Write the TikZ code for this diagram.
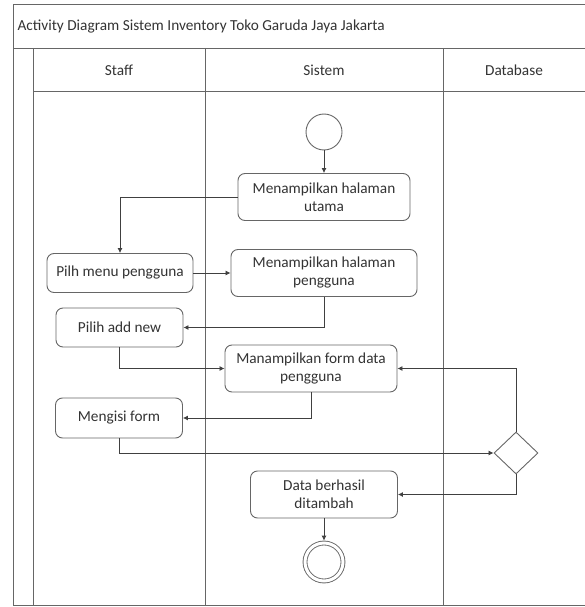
\documentclass[tikz,border=0pt]{standalone}
\usepackage{fontspec}
\setmainfont{Carlito}
\usetikzlibrary{shapes.geometric,arrows.meta}
\begin{document}
\begin{tikzpicture}[x=1pt,y=-1pt,
  font=\fontsize{15.3}{18}\selectfont,text=black!80,
  lane/.style={draw=black!60,line width=0.9pt},
  act/.style={draw=black!60,line width=0.9pt,rounded corners=7pt,align=center,inner sep=0pt},
  flow/.style={draw=black!75,line width=0.8pt,-{Latex[length=5pt,width=5pt]}}]
  \useasboundingbox (0,0) rectangle (585,607);
  \draw[lane] (585,4) -| (13,605) -- (585,605);
  \draw[lane] (13,48) -- (585,48);
  \draw[lane] (33,91) -- (585,91);
  \draw[lane] (33,48) -- (33,605);
  \draw[lane] (205,48) -- (205,605);
  \draw[lane] (443,48) -- (443,605);
  \node[anchor=west] (judul) at (14,27) {Activity Diagram Sistem Inventory Toko Garuda Jaya Jakarta};
  \node (staff) at (119,70) {Staff};
  \node (sistem) at (324,70) {Sistem};
  \node (database) at (514,70) {Database};
  \node[circle,draw=black!60,line width=0.9pt,minimum size=36pt,inner sep=0pt] (mulai) at (324,132) {};
  \node[act,minimum width=172pt,minimum height=47pt] (utama) at (324,197) {Menampilkan halaman\\utama};
  \node[act,minimum width=146pt,minimum height=39pt] (menu) at (120,273) {Pilh menu pengguna};
  \node[act,minimum width=186pt,minimum height=47pt] (halpeng) at (324,273) {Menampilkan halaman\\pengguna};
  \node[act,minimum width=127pt,minimum height=39pt] (addnew) at (119.5,327.5) {Pilih add new};
  \node[act,minimum width=172pt,minimum height=47pt] (form) at (311,368.5) {Manampilkan form data\\pengguna};
  \node[act,minimum width=127pt,minimum height=40pt] (isi) at (119,418) {Mengisi form};
  \node[diamond,draw=black!60,line width=0.9pt,minimum width=44pt,minimum height=42pt,inner sep=0pt] (cek) at (516,453) {};
  \node[act,minimum width=147pt,minimum height=47pt] (hasil) at (324,494.5) {Data berhasil\\ditambah};
  \node[circle,draw=black!60,line width=0.9pt,double,double distance=3pt,minimum size=38pt,inner sep=0pt,outer sep=2.4pt] (selesai) at (324,562) {};
  \draw[flow] (mulai) -- (utama);
  \draw[flow] (utama.west) -| (menu.north);
  \draw[flow] (menu) -- (halpeng);
  \draw[flow] (halpeng.south) |- (addnew.east);
  \draw[flow] (addnew.south) |- (form.west);
  \draw[flow] (form.south) |- (isi.east);
  \draw[flow] (isi.south) |- (cek.west);
  \draw[flow] (cek.north) |- (form.east);
  \draw[flow] (cek.south) |- (hasil.east);
  \draw[flow] (hasil) -- (selesai);
\end{tikzpicture}
\end{document}
